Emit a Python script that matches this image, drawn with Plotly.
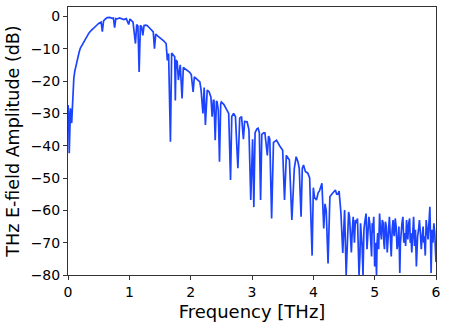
import plotly.graph_objects as go

freq_thz = [
    0.00, 0.01, 0.02, 0.03, 0.04, 0.05, 0.06, 0.07, 0.08, 0.095, 0.11, 0.12, 0.14, 0.16, 0.18, 0.20,
    0.23, 0.26, 0.30, 0.34, 0.38, 0.42, 0.46, 0.50, 0.54, 0.56, 0.58, 0.61, 0.64, 0.68, 0.72, 0.74,
    0.76, 0.78, 0.80, 0.84, 0.88, 0.91, 0.95, 0.99, 1.01, 1.03, 1.06, 1.10, 1.12, 1.14, 1.16, 1.18,
    1.20, 1.22, 1.24, 1.27, 1.29, 1.33, 1.36, 1.39, 1.41, 1.43, 1.47, 1.52, 1.56, 1.60, 1.62, 1.64,
    1.67, 1.69, 1.72, 1.74, 1.75, 1.76, 1.78, 1.80, 1.83, 1.86, 1.88, 1.90, 1.94, 1.98, 2.01, 2.04,
    2.06, 2.10, 2.15, 2.17, 2.20, 2.22, 2.24, 2.27, 2.30, 2.33, 2.35, 2.37, 2.38, 2.40, 2.42, 2.43,
    2.45, 2.47, 2.49, 2.50, 2.54, 2.58, 2.62, 2.65, 2.67, 2.70, 2.73, 2.77, 2.80, 2.83, 2.86, 2.88,
    2.92, 2.95, 2.98, 3.01, 3.03, 3.05, 3.08, 3.10, 3.12, 3.14, 3.16, 3.19, 3.21, 3.25, 3.27, 3.29,
    3.32, 3.35, 3.40, 3.45, 3.50, 3.53, 3.56, 3.61, 3.65, 3.69, 3.72, 3.75, 3.77, 3.80, 3.82, 3.84,
    3.87, 3.91, 3.94, 3.98, 4.00, 4.02, 4.05, 4.08, 4.10, 4.14, 4.17, 4.19, 4.21, 4.24, 4.26, 4.27,
    4.30, 4.32, 4.36, 4.38, 4.40, 4.42, 4.43, 4.45, 4.48, 4.51, 4.535,
    4.56, 4.575, 4.59, 4.605, 4.62, 4.635, 4.65, 4.66, 4.67, 4.685, 4.70, 4.72, 4.735, 4.745, 4.76, 4.77,
    4.78, 4.795, 4.81, 4.825, 4.84, 4.86, 4.875, 4.89, 4.905, 4.92, 4.935, 4.95, 4.96, 4.97, 4.985, 5.00,
    5.015, 5.03, 5.04, 5.05, 5.065, 5.08, 5.095, 5.11, 5.125, 5.14, 5.15, 5.16, 5.175, 5.19, 5.205, 5.22,
    5.23, 5.24, 5.255, 5.27, 5.285, 5.30, 5.31, 5.32, 5.335, 5.35, 5.365, 5.38, 5.395, 5.41, 5.42, 5.43,
    5.445, 5.46, 5.475, 5.49, 5.505, 5.52, 5.53, 5.54, 5.555, 5.57, 5.58, 5.59, 5.605, 5.62, 5.635, 5.65,
    5.665, 5.68, 5.69, 5.70, 5.715, 5.73, 5.745, 5.76, 5.775, 5.79, 5.80, 5.81, 5.825, 5.84, 5.855, 5.87,
    5.885, 5.90, 5.91, 5.92, 5.935, 5.95, 5.965, 5.98, 5.99, 6.00,
]

amplitude_db = [
    -27.4, -30.0, -42.3, -29.0, -28.4, -31.0, -33.0, -29.0, -24.3, -19.1, -17.0, -16.0, -14.5, -13.0, -11.2, -9.9,
    -8.8, -7.8, -6.4, -5.2, -4.3, -3.7, -2.9, -2.2, -1.8, -4.7, -1.4, -0.8, -0.4, -0.3, -0.6, -0.5,
    -3.5, -0.7, -0.8, -0.5, -0.9, -1.0, -0.7, -2.5, -0.8, -1.2, -1.8, -8.4, -2.5, -3.0, -17.2, -2.8,
    -3.2, -5.9, -2.8, -2.7, -2.8, -3.6, -4.3, -4.8, -10.0, -5.5, -6.2, -6.9, -7.6, -8.4, -13.6, -11.5,
    -38.8, -11.3, -12.0, -12.5, -26.0, -13.5, -14.0, -19.7, -15.0, -25.4, -15.8, -16.1, -16.8, -17.2, -18.0, -23.4,
    -18.7, -19.5, -20.3, -22.8, -30.0, -22.0, -33.6, -22.8, -23.3, -25.0, -31.0, -26.0, -26.0, -38.3, -26.2, -26.4,
    -29.0, -45.0, -27.0, -26.5, -27.2, -28.5, -30.0, -50.6, -31.0, -30.0, -31.0, -47.0, -31.5, -31.0, -38.0, -32.5,
    -32.6, -35.0, -56.8, -38.0, -59.0, -36.0, -34.8, -34.6, -36.0, -56.8, -36.5, -36.0, -36.0, -43.0, -37.0, -38.0,
    -62.5, -39.0, -38.3, -40.0, -41.4, -56.8, -43.0, -44.4, -63.0, -47.0, -43.4, -45.0, -47.0, -62.0, -47.0, -46.0,
    -48.0, -48.5, -50.0, -74.0, -53.0, -56.0, -56.8, -54.5, -54.0, -51.6, -65.6, -58.0, -60.0, -76.4, -57.0, -55.8,
    -55.0, -54.5, -53.7, -55.0, -55.0, -54.0, -55.8, -60.8, -73.2, -59.9, -80.0,
    -65.0, -60.5, -62.0, -68.0, -73.0, -66.0, -62.0, -66.0, -70.0, -63.0, -64.0, -62.5, -70.0, -80.0, -74.0, -64.0,
    -67.0, -71.0, -80.0, -66.0, -63.5, -61.0, -72.0, -68.0, -62.0, -64.0, -69.0, -74.3, -64.0, -67.0, -62.0, -77.4,
    -70.0, -80.0, -70.0, -67.0, -72.0, -61.0, -66.0, -69.0, -63.0, -64.0, -70.0, -72.0, -63.5, -65.0, -73.0, -68.0,
    -64.0, -62.0, -68.0, -74.3, -66.0, -63.0, -67.0, -68.0, -62.5, -65.0, -72.0, -70.0, -65.0, -79.4, -70.0, -67.0,
    -64.0, -62.0, -70.0, -67.0, -71.0, -63.0, -66.0, -69.0, -64.0, -62.5, -70.0, -67.0, -73.0, -65.0, -62.0, -71.0,
    -66.0, -77.4, -72.0, -68.0, -66.0, -63.0, -67.0, -72.0, -68.0, -65.0, -70.0, -68.0, -74.0, -63.0, -66.0, -69.0,
    -64.0, -58.9, -68.0, -79.4, -66.0, -70.0, -64.0, -67.0, -72.0, -76.0,
]

x_ticks = [0, 1, 2, 3, 4, 5, 6]
y_ticks = [0, -10, -20, -30, -40, -50, -60, -70, -80]

fig = go.Figure()
fig.add_trace(go.Scatter(
    x=freq_thz, y=amplitude_db, mode="lines",
    line=dict(color="rgb(28,68,255)", width=1.7),
    showlegend=False,
))

axis_common = dict(
    showgrid=False, zeroline=False, showline=True, mirror=True,
    linecolor="#333333", linewidth=1,
    ticks="outside", ticklen=4, tickwidth=1, tickcolor="#333333",
    tickfont=dict(family="DejaVu Sans", size=14, color="black"),
)

fig.update_layout(
    width=449, height=324,
    margin=dict(l=68, r=13, t=7, b=49, autoexpand=False),
    paper_bgcolor="white", plot_bgcolor="white",
    font=dict(family="DejaVu Sans", color="black"),
    xaxis=dict(
        range=[0, 6], tickvals=x_ticks, ticktext=[str(v) for v in x_ticks],
        title=dict(text="Frequency [THz]", font=dict(size=18), standoff=6),
        **axis_common,
    ),
    yaxis=dict(
        range=[-80, 2.9], tickvals=y_ticks,
        ticktext=[("\u2212" + str(-v)) if v < 0 else str(v) for v in y_ticks],
        title=dict(text="THz E-field Amplitude (dB)", font=dict(size=17.5), standoff=6),
        **axis_common,
    ),
)

fig.write_html("out.html")
